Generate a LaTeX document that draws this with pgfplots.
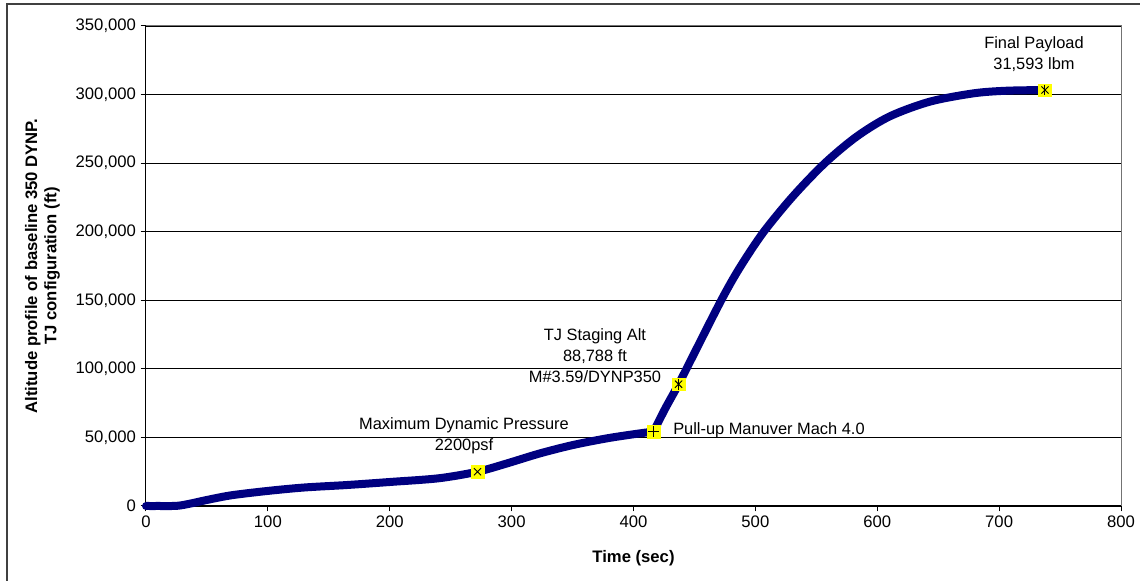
\documentclass[border=0pt]{standalone}
\usepackage{fontspec}
\setmainfont{Liberation Sans}
\usepackage{pgfplots}
\pgfplotsset{compat=1.18}
\definecolor{navyline}{HTML}{000080}
\definecolor{mkyellow}{HTML}{FFFF00}
\newcommand{\tf}{\fontsize{12.5}{14.5}\selectfont}
\newcommand{\af}{\fontsize{12.3}{15.75}\selectfont}
\begin{document}
\begin{tikzpicture}
\useasboundingbox (0,0) rectangle (855pt,435.75pt);
\draw[line width=1.5pt, black!75] (5.25pt,0) -- (5.25pt,432.75pt) -- (855pt,432.75pt);
\begin{axis}[
  at={(109.5pt,56.25pt)}, anchor=south west,
  width=731.25pt, height=360pt, scale only axis,
  xmin=0, xmax=800, ymin=0, ymax=350000,
  xtick={0,100,...,800}, ytick={0,50000,...,350000},
  axis x line*=bottom, axis y line*=left,
  axis line style={black, line width=0.75pt, -},
  tick align=outside, major tick length=4pt,
  tick style={black, line width=0.75pt},
  ymajorgrids, major grid style={black, line width=0.6pt},
  scaled y ticks=false,
  /pgf/number format/fixed,
  /pgf/number format/1000 sep={,},
  /pgf/number format/assume math mode=true,
  ticklabel style={font=\tf},
  xlabel={Time (sec)},
  xlabel style={font=\tf\bfseries, at={(axis description cs:0.5,-0.1083)}, anchor=center},
  ylabel={Altitude profile of baseline 350 DYNP.\\TJ configuration (ft)},
  ylabel style={font=\tf\bfseries, align=center, at={(axis description cs:-0.1062,0.5)}, anchor=center},
  clip=false,
]
\draw[black!55, line width=0.75pt] (rel axis cs:0,1) -- (rel axis cs:1,1) -- (rel axis cs:1,0);
\addplot[navyline, line width=6pt, line join=round, line cap=round, smooth, tension=0.5] coordinates {
(0,0) (10,0) (25,100) (35,1500) (50,4400) (70,7800) (100,11000) (130,13500)
(165,15300) (200,17500) (240,20200) (272,25000) (296,31000) (323,38300)
(350,44400) (378,49300) (400,52300) (416.5,54300)
};
\addplot[navyline, line width=6pt, line join=round, line cap=round, smooth, tension=0.5] coordinates {
(416.5,54300) (426,71000) (437,88788)
(449,109800) (472,150000) (487,173500) (506.5,199500) (531,226000)
(557,250000) (583,269300) (610,284000) (643,294800) (679,300900)
(706,302800) (737.6,303300)
};
\addplot[only marks, mark=square*, mark size=4.7pt, mark options={fill=mkyellow, draw=mkyellow}]
  coordinates {(272,25000) (416.5,54300) (437,88788) (737.6,303300)};
\addplot[only marks, mark=x, mark size=3.8pt, mark options={black, line width=0.7pt}]
  coordinates {(272,25000) (437,88788) (737.6,303300)};
\addplot[only marks, mark=+, mark size=4pt, mark options={black, line width=0.7pt}]
  coordinates {(416.5,54300)};
\addplot[only marks, mark=|, mark size=4pt, mark options={black, line width=0.7pt}]
  coordinates {(437,88788) (737.6,303300)};
\node[align=center, font=\af, inner sep=0] at (axis cs:260.9,51190) {Maximum Dynamic Pressure\\2200psf};
\node[align=center, font=\af, inner sep=0] at (axis cs:368.4,109740) {TJ Staging Alt\\88,788 ft\\M\#3.59/DYNP350};
\node[align=center, font=\af, inner sep=0] at (axis cs:728.6,329220) {Final Payload\\31,593 lbm};
\node[anchor=west, font=\af, inner sep=0] at (axis cs:432.4,55420) {Pull-up Manuver Mach 4.0};
\end{axis}
\end{tikzpicture}
\end{document}
